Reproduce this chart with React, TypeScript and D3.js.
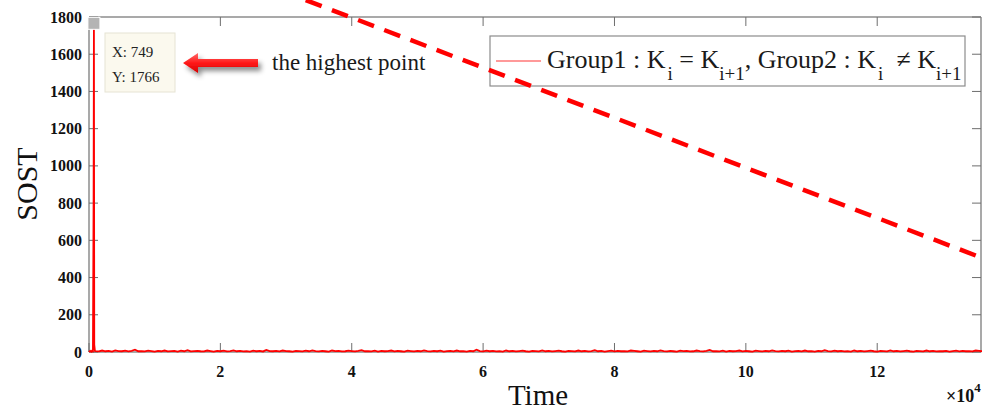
import React from "react";
import * as d3 from "d3";

const W = 982;
const H = 412;

// x tick values (in units of 10^4) and y tick values
const xTicks = [0, 2, 4, 6, 8, 10, 12];
const yTicks = [0, 200, 400, 600, 800, 1000, 1200, 1400, 1600, 1800];

// start of the series, around the highest point
const headTimes = [0, 100, 200, 300, 400, 500, 600, 700, 749, 800, 900];
const headValues = [0, 4, 3, 6, 2, 5, 4, 830, 1766, 40, 6];

// rest of the series, one value every 500 time units from t = 1000
const noiseValues = [
  5, 3, 8, 4, 6, 2, 9, 5, 4, 7, 3, 6, 12, 4, 5, 3, 7, 5, 2, 6,
  4, 8, 3, 5, 6, 2, 7, 4, 10, 3, 5, 6, 4, 3, 8, 5, 2, 6, 4, 7,
  3, 5, 9, 4, 6, 3, 5, 2, 7, 4, 6, 3, 11, 5, 4, 6, 3, 8, 5, 4,
  2, 6, 5, 3, 7, 4, 9, 5, 3, 6, 4, 2, 8, 5, 6, 3, 4, 7, 5, 3,
  6, 10, 4, 5, 3, 7, 2, 6, 4, 5, 8, 3, 6, 4, 2, 7, 5, 3, 6, 4,
  9, 5, 3, 6, 4, 7, 2, 5, 6, 3, 8, 4, 5, 2, 6, 4, 12, 5, 3, 7,
  4, 6, 3, 5, 2, 8, 4, 6, 3, 5, 7, 4, 2, 6, 5, 3, 9, 4, 6, 3,
  5, 7, 4, 2, 6, 5, 3, 8, 4, 6, 3, 5, 10, 4, 6, 2, 5, 7, 3, 6,
  4, 5, 3, 8, 6, 4, 2, 7, 5, 3, 6, 4, 9, 5, 3, 6, 4, 2, 7, 5,
  6, 3, 4, 8, 5, 3, 6, 11, 4, 5, 3, 7, 2, 6, 4, 5, 8, 3, 6, 4,
  2, 7, 5, 3, 6, 4, 9, 5, 3, 6, 4, 7, 2, 5, 6, 3, 8, 4, 5, 2,
  6, 4, 10, 5, 3, 7, 4, 6, 3, 5, 2, 8, 4, 6, 3, 5, 7, 4, 2, 6,
  5, 3, 9, 4, 6, 3, 5, 7, 4, 2, 6, 5, 3, 8, 4, 6, 3, 5, 4, 6,
  2, 5, 7, 3, 6, 4, 5, 3, 8, 6, 4, 2, 7, 5, 3
];
const noiseStart = 1000;
const noiseStep = 500;

// annotation: the highest point datatip
const peakTime = 749;
const peakValue = 1766;

// annotation: dashed red line (data coordinates)
const dashTimes = [33000, 136000];
const dashValues = [1891, 505];

const xMax = 135800;

export default function App() {
  const left = 89;
  const right = 981;
  const top = 17;
  const bottom = 352;

  const x = d3.scaleLinear().domain([0, xMax]).range([left, right]);
  const y = d3.scaleLinear().domain([0, 1800]).range([bottom, top]);

  const series: [number, number][] = [];
  headTimes.forEach((t, i) => series.push([t, headValues[i]]));
  noiseValues.forEach((v, i) => series.push([noiseStart + i * noiseStep, v]));

  const line = d3
    .line<[number, number]>()
    .x((d) => x(d[0]))
    .y((d) => y(d[1]));

  const dashPts: [number, number][] = dashTimes.map((t, i) => [t, dashValues[i]]);

  const axisColor = "#8c8c8c";
  const tickColor = "#6e6e6e";
  const tl = 9;

  const px = x(peakTime);
  const py = y(peakValue);

  // arrow geometry
  const ax0 = 183;
  const ax1 = 258;
  const ay = 63;

  return (
    <svg
      width={W}
      height={H}
      style={{ position: "absolute", left: 0, top: 0, background: "#fff" }}
      fontFamily="'Liberation Serif', 'Times New Roman', serif"
    >
      <defs>
        <filter id="shadow" x="-30%" y="-60%" width="160%" height="240%">
          <feDropShadow dx="3" dy="4" stdDeviation="2.5" floodColor="#000" floodOpacity="0.45" />
        </filter>
        <linearGradient id="arrowGrad" x1="0" y1="0" x2="0" y2="1">
          <stop offset="0" stopColor="#ff6a6a" />
          <stop offset="0.5" stopColor="#ff1a1a" />
          <stop offset="1" stopColor="#d40000" />
        </linearGradient>
      </defs>

      {/* axes frame */}
      <line x1={left} x2={right} y1={top} y2={top} stroke={axisColor} strokeWidth={1.5} />
      <line x1={left} x2={left} y1={top} y2={bottom} stroke={axisColor} strokeWidth={1.5} />
      <line x1={right} x2={right} y1={top} y2={bottom} stroke={axisColor} strokeWidth={1.5} />
      <line x1={left} x2={right} y1={bottom} y2={bottom} stroke={axisColor} strokeWidth={1.5} />

      {/* x ticks */}
      {xTicks.map((t) => (
        <g key={"xt" + t}>
          <line x1={x(t * 1e4)} x2={x(t * 1e4)} y1={bottom} y2={bottom - tl} stroke={tickColor} />
          <line x1={x(t * 1e4)} x2={x(t * 1e4)} y1={top} y2={top + tl} stroke={tickColor} />
          <text
            x={x(t * 1e4)}
            y={377}
            textAnchor="middle"
            fontSize={16}
            fontWeight="bold"
            fill="#111"
          >
            {t}
          </text>
        </g>
      ))}

      {/* y ticks */}
      {yTicks.map((v) => (
        <g key={"yt" + v}>
          <line x1={left} x2={left + tl} y1={y(v)} y2={y(v)} stroke={tickColor} />
          <line x1={right} x2={right - tl} y1={y(v)} y2={y(v)} stroke={tickColor} />
          <text
            x={82}
            y={y(v)}
            dy="0.35em"
            textAnchor="end"
            fontSize={16}
            fontWeight="bold"
            fill="#111"
          >
            {v}
          </text>
        </g>
      ))}

      {/* data */}
      <path d={line(series) || ""} fill="none" stroke="#ff0000" strokeWidth={1.8} />

      {/* axis labels */}
      <text x={538} y={405} textAnchor="middle" fontSize={29} fill="#111">
        Time
      </text>
      <text
        transform={`translate(37,184) rotate(-90)`}
        textAnchor="middle"
        fontSize={30}
        fill="#111"
      >
        SOST
      </text>
      <text x={946} y={402} fontSize={18} fontWeight="bold" fill="#111">
        ×10
        <tspan dy={-10} fontSize={13}>
          4
        </tspan>
      </text>

      {/* datatip */}
      <rect x={px - 6} y={py - 6} width={12} height={12} fill="#b4b4b4" stroke="#fff" strokeWidth={1} />
      <rect x={105} y={33} width={70} height={59} fill="#fbf9ee" stroke="#e6e3d4" strokeWidth={1} />
      <text x={112} y={57} fontSize={15} fill="#222">
        X: {peakTime}
      </text>
      <text x={112} y={82} fontSize={15} fill="#222">
        Y: {peakValue}
      </text>

      {/* arrow */}
      <path
        d={`M${ax0},${ay} L${ax0 + 15},${ay - 10} L${ax0 + 15},${ay - 4} L${ax1},${ay - 4} L${ax1},${ay + 4} L${ax0 + 15},${ay + 4} L${ax0 + 15},${ay + 10} Z`}
        fill="url(#arrowGrad)"
        filter="url(#shadow)"
      />
      <text x={272} y={70} fontSize={23} fill="#1a1a1a">
        the highest point
      </text>

      {/* legend */}
      <rect x={490} y={36} width={475} height={50} fill="#fff" stroke="#8c8c8c" strokeWidth={1.2} />
      <line x1={496} x2={541} y1={61} y2={61} stroke="#ff0000" strokeWidth={1} opacity={0.8} />
      <text x={547} y={68} fontSize={26} fill="#1a1a1a" style={{ whiteSpace: "pre" }}>
        <tspan>Group1 : K</tspan>
        <tspan dx={2} dy={12} fontSize={19}>i</tspan>
        <tspan dy={-12}> = K</tspan>
        <tspan dy={12} fontSize={19}>i+1</tspan>
        <tspan dy={-12}>, Group2 : K</tspan>
        <tspan dx={2} dy={12} fontSize={19}>i</tspan>
        <tspan dy={-12}>  ≠ K</tspan>
        <tspan dy={12} fontSize={19}>i+1</tspan>
      </text>

      {/* dashed annotation line */}
      <path
        d={line(dashPts) || ""}
        fill="none"
        stroke="#ff0000"
        strokeWidth={4.5}
        strokeDasharray="17 11"
      />
    </svg>
  );
}
